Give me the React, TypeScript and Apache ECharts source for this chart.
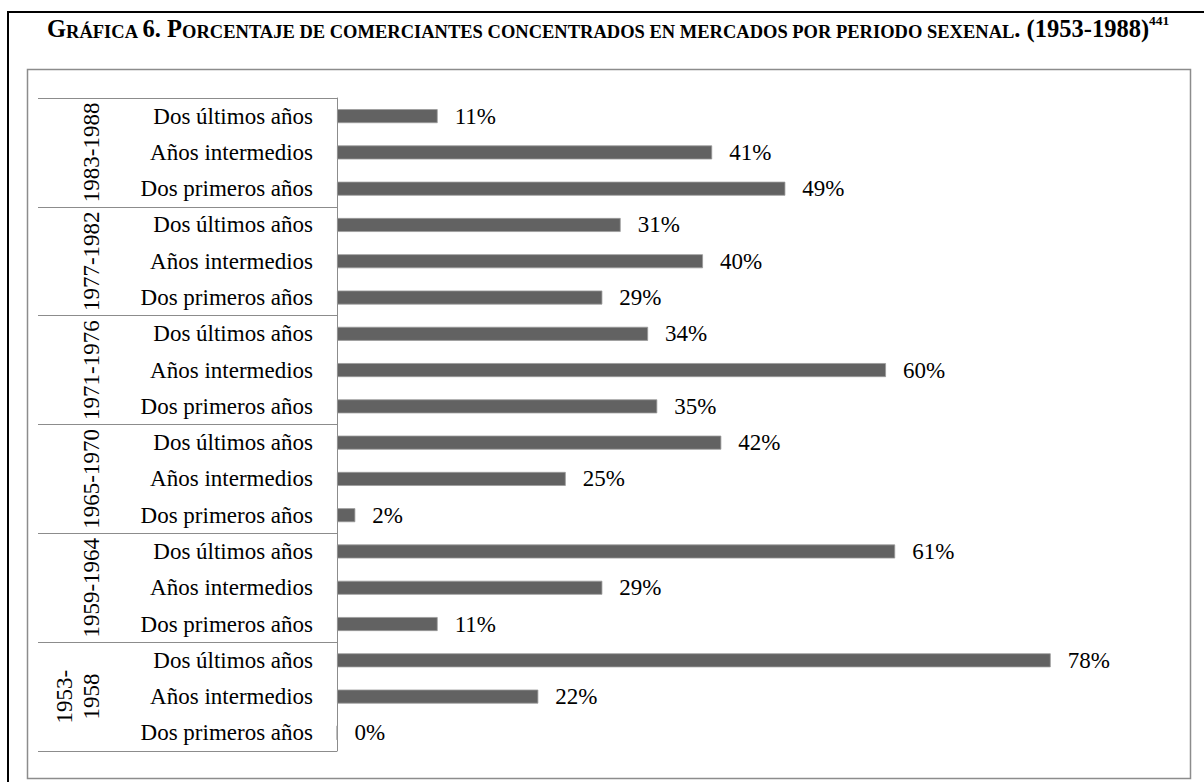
import React, { useEffect, useRef } from 'react';
import * as echarts from 'echarts';

// Group (period) tick labels, bottom to top
const periods = ['1953-\n1958', '1959-1964', '1965-1970', '1971-1976', '1977-1982', '1983-1988'];
// Inner category labels within each period, bottom to top
const stages = ['Dos primeros años', 'Años intermedios', 'Dos últimos años'];

// Percentages per period (Dos primeros, Intermedios, Dos últimos)
const p1953 = [0, 22, 78];
const p1959 = [11, 29, 61];
const p1965 = [2, 25, 42];
const p1971 = [35, 60, 34];
const p1977 = [29, 40, 31];
const p1983 = [49, 41, 11];
const periodValues = [p1953, p1959, p1965, p1971, p1977, p1983];

const titleText =
  '{b|G}{s|RÁFICA }{b|6. P}{s|ORCENTAJE DE COMERCIANTES CONCENTRADOS EN MERCADOS POR PERIODO SEXENAL}{b|. (1953-1988)}{sup|441}';

const FONT = "'Liberation Serif', 'Times New Roman', serif";

export default function App() {
  const ref = useRef<HTMLDivElement>(null);

  useEffect(() => {
    if (!ref.current) return;
    const chart = echarts.init(ref.current, undefined, { renderer: 'svg' });
    const categories = periods.flatMap(() => stages);
    const values = periodValues.flat();

    chart.setOption({
      animation: false,
      backgroundColor: '#ffffff',
      grid: {
        left: 337,
        top: 98,
        width: 732,
        height: 653,
        outerBoundsMode: 'none',
        containLabel: false,
      },
      xAxis: {
        type: 'value',
        min: 0,
        max: 80,
        show: false,
        splitLine: { show: false },
      },
      yAxis: [
        {
          type: 'category',
          data: categories,
          position: 'left',
          offset: 0,
          axisLine: { show: true, lineStyle: { color: '#8c8c8c', width: 1 } },
          axisTick: { show: false },
          axisLabel: {
            interval: 0,
            margin: 24,
            fontFamily: FONT,
            fontSize: 23,
            color: '#000',
          },
        },
        {
          type: 'category',
          data: periods,
          position: 'left',
          offset: 0,
          axisLine: { show: false },
          axisTick: { show: true, length: 299, lineStyle: { color: '#8c8c8c', width: 1 } },
          axisLabel: {
            interval: 0,
            rotate: 90,
            margin: 232,
            fontFamily: FONT,
            fontSize: 23,
            lineHeight: 27,
            color: '#000',
          },
        },
      ],
      series: [
        {
          type: 'bar',
          yAxisIndex: 0,
          data: values,
          barWidth: 14,
          itemStyle: { color: '#626262', borderColor: '#9a9a9a', borderWidth: 0.8 },
          label: {
            show: true,
            position: 'right',
            distance: 17,
            formatter: '{c}%',
            fontFamily: FONT,
            fontSize: 23,
            color: '#000',
          },
        },
      ],
      graphic: [
        {
          type: 'rect',
          silent: true,
          shape: { x: 8, y: 12, width: 1400, height: 1000 },
          style: { fill: 'none', stroke: '#000', lineWidth: 2 },
        },
        {
          type: 'rect',
          silent: true,
          shape: { x: 27.5, y: 69.5, width: 1163, height: 709 },
          style: { fill: 'none', stroke: '#8c8c8c', lineWidth: 1.5 },
        },
        {
          type: 'text',
          silent: true,
          x: 47,
          y: 13,
          style: {
            text: titleText,
            verticalAlign: 'top',
            fill: '#000',
            fontFamily: FONT,
            fontWeight: 'bold',
            rich: {
              b: { fontFamily: FONT, fontWeight: 'bold', fontSize: 24.5, lineHeight: 28, verticalAlign: 'bottom' },
              s: { fontFamily: FONT, fontWeight: 'bold', fontSize: 18.5, lineHeight: 22.5, verticalAlign: 'bottom' },
              sup: { fontFamily: FONT, fontWeight: 'bold', fontSize: 13.5, lineHeight: 15, verticalAlign: 'top' },
            },
          },
        },
      ],
    });

    return () => chart.dispose();
  }, []);

  return (
    <div
      ref={ref}
      style={{ position: 'absolute', left: 0, top: 0, width: 1204, height: 782 }}
    />
  );
}
